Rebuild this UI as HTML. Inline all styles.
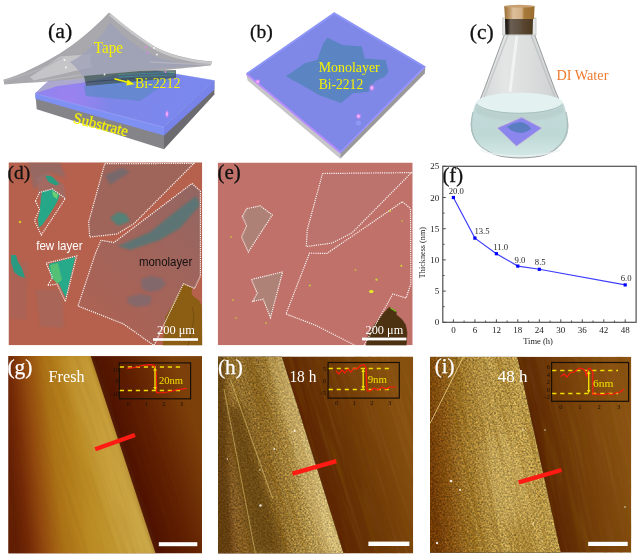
<!DOCTYPE html>
<html><head><meta charset="utf-8"><style>html,body{margin:0;padding:0;background:#fff;}svg{display:block}</style></head>
<body><svg width="640" height="556" viewBox="0 0 640 556">
<rect width="640" height="556" fill="#fff"/>
<defs><linearGradient id="slabTopA" gradientUnits="userSpaceOnUse" x1="40" y1="60" x2="190" y2="130"><stop offset="0" stop-color="#8c82f0"/><stop offset="0.5" stop-color="#7e86ea"/><stop offset="1" stop-color="#7a88ee"/></linearGradient><radialGradient id="pinkA" gradientUnits="userSpaceOnUse" cx="70" cy="98" r="40"><stop offset="0" stop-color="#b080f4" stop-opacity="0.5"/><stop offset="1" stop-color="#c080f0" stop-opacity="0"/></radialGradient><linearGradient id="water" x1="0" y1="0" x2="0" y2="1"><stop offset="0" stop-color="#c4dcdb"/><stop offset="0.6" stop-color="#bed8d6"/><stop offset="1" stop-color="#d2e8e6"/></linearGradient><linearGradient id="cork" x1="0" y1="0" x2="1" y2="0"><stop offset="0" stop-color="#9a7038"/><stop offset="0.18" stop-color="#c09868"/><stop offset="0.3" stop-color="#dcc09c"/><stop offset="0.58" stop-color="#d2ae84"/><stop offset="0.66" stop-color="#a87a3a"/><stop offset="1" stop-color="#9a6c30"/></linearGradient><linearGradient id="corkIn" x1="0" y1="0" x2="1" y2="0"><stop offset="0" stop-color="#1a1612"/><stop offset="0.1" stop-color="#2e2822"/><stop offset="0.2" stop-color="#6a5e52"/><stop offset="0.55" stop-color="#5e5040"/><stop offset="0.62" stop-color="#5c4832"/><stop offset="1" stop-color="#4a3820"/></linearGradient><linearGradient id="glass" x1="0" y1="0" x2="1" y2="0"><stop offset="0" stop-color="#b8bcbc"/><stop offset="0.1" stop-color="#d6d9d9"/><stop offset="0.35" stop-color="#e4e6e6"/><stop offset="0.6" stop-color="#dcdede"/><stop offset="0.88" stop-color="#cfd2d2"/><stop offset="1" stop-color="#b4b8b8"/></linearGradient><radialGradient id="glint"><stop offset="0" stop-color="#ffe0ff" stop-opacity="1"/><stop offset="0.35" stop-color="#ffa0ff" stop-opacity="0.85"/><stop offset="1" stop-color="#e070ff" stop-opacity="0"/></radialGradient><linearGradient id="gLeft" gradientUnits="userSpaceOnUse" x1="8" y1="455" x2="150" y2="440"><stop offset="0" stop-color="#621e04"/><stop offset="0.08" stop-color="#742a06"/><stop offset="0.18" stop-color="#92480e"/><stop offset="0.32" stop-color="#ac7216"/><stop offset="0.5" stop-color="#ba8a22"/><stop offset="0.75" stop-color="#c49c34"/><stop offset="1" stop-color="#cca848"/></linearGradient><linearGradient id="gRight" gradientUnits="userSpaceOnUse" x1="123" y1="455" x2="196" y2="431"><stop offset="0" stop-color="#4e1000"/><stop offset="0.45" stop-color="#602002"/><stop offset="1" stop-color="#7c400a"/></linearGradient><linearGradient id="hLeft" gradientUnits="userSpaceOnUse" x1="218" y1="455" x2="316" y2="440"><stop offset="0" stop-color="#7c5220"/><stop offset="0.25" stop-color="#94702e"/><stop offset="0.5" stop-color="#8e6a28"/><stop offset="0.7" stop-color="#a6863e"/><stop offset="0.88" stop-color="#b89c56"/><stop offset="1" stop-color="#c4aa64"/></linearGradient><linearGradient id="hRight" gradientUnits="userSpaceOnUse" x1="312" y1="455" x2="404" y2="426"><stop offset="0" stop-color="#5c2402"/><stop offset="0.4" stop-color="#6c3606"/><stop offset="1" stop-color="#885010"/></linearGradient><linearGradient id="iLeft" gradientUnits="userSpaceOnUse" x1="430" y1="455" x2="545" y2="445"><stop offset="0" stop-color="#703a06"/><stop offset="0.12" stop-color="#845012"/><stop offset="0.3" stop-color="#9c7428"/><stop offset="0.55" stop-color="#b8984a"/><stop offset="0.8" stop-color="#bc9c4c"/><stop offset="1" stop-color="#b89848"/></linearGradient><linearGradient id="iRight" gradientUnits="userSpaceOnUse" x1="539" y1="455" x2="625" y2="436"><stop offset="0" stop-color="#5a2402"/><stop offset="0.35" stop-color="#703a08"/><stop offset="1" stop-color="#8a5212"/></linearGradient><filter id="grain" x="0" y="0" width="100%" height="100%"><feTurbulence type="fractalNoise" baseFrequency="0.38" numOctaves="3" seed="7"/><feColorMatrix type="matrix" values="0 0 0 0 0.92  0 0 0 0 0.82  0 0 0 0 0.5  2.4 0 0 0 -1.05"/></filter><filter id="grainD" x="0" y="0" width="100%" height="100%"><feTurbulence type="fractalNoise" baseFrequency="0.36" numOctaves="3" seed="11"/><feColorMatrix type="matrix" values="0 0 0 0 0.3  0 0 0 0 0.15  0 0 0 0 0  2.4 0 0 0 -1.05"/></filter><filter id="ov" x="0" y="0" width="100%" height="100%"><feTurbulence type="fractalNoise" baseFrequency="0.42" numOctaves="3" seed="21"/><feColorMatrix type="matrix" values="3 0 0 0 -1  3 0 0 0 -1  3 0 0 0 -1  0 0 0 0 1"/></filter><filter id="ovS" x="0" y="0" width="100%" height="100%"><feTurbulence type="fractalNoise" baseFrequency="0.3 0.02" numOctaves="3" seed="4"/><feColorMatrix type="matrix" values="3 0 0 0 -1  3 0 0 0 -1  3 0 0 0 -1  0 0 0 0 1"/></filter><filter id="modn" x="0" y="0" width="1" height="1" color-interpolation-filters="sRGB"><feTurbulence type="fractalNoise" baseFrequency="0.55" numOctaves="2" seed="21" result="n"/><feColorMatrix in="n" type="matrix" values="1.0 0 0 0 0  1.0 0 0 0 0  1.0 0 0 0 0  0 0 0 0 1" result="g"/><feComposite in="SourceGraphic" in2="g" operator="arithmetic" k1="1" k2="0.5" k3="0" k4="0"/></filter><filter id="modn2" x="0" y="0" width="1" height="1" color-interpolation-filters="sRGB"><feTurbulence type="fractalNoise" baseFrequency="0.5 0.04" numOctaves="3" seed="33" result="n"/><feColorMatrix in="n" type="matrix" values="0.5 0 0 0 0.25  0.5 0 0 0 0.25  0.5 0 0 0 0.25  0 0 0 0 1" result="g"/><feComposite in="SourceGraphic" in2="g" operator="arithmetic" k1="1" k2="0.5" k3="0" k4="0"/></filter><filter id="streak" x="0" y="0" width="100%" height="100%"><feTurbulence type="fractalNoise" baseFrequency="0.25 0.012" numOctaves="2" seed="5"/><feColorMatrix type="matrix" values="0 0 0 0 0.2  0 0 0 0 0.08  0 0 0 0 0  2.4 0 0 0 -1.1"/></filter><filter id="streakL" x="0" y="0" width="100%" height="100%"><feTurbulence type="fractalNoise" baseFrequency="0.25 0.012" numOctaves="2" seed="9"/><feColorMatrix type="matrix" values="0 0 0 0 1  0 0 0 0 0.85  0 0 0 0 0.5  2.4 0 0 0 -1.1"/></filter><filter id="blur1"><feGaussianBlur stdDeviation="1"/></filter><filter id="blur2"><feGaussianBlur stdDeviation="2"/></filter><filter id="blur4"><feGaussianBlur stdDeviation="4"/></filter><filter id="soft"><feGaussianBlur stdDeviation="0.45"/></filter><clipPath id="cd"><rect x="8.5" y="162.3" width="193.8" height="183"/></clipPath><clipPath id="ce"><rect x="217.7" y="162.5" width="195" height="182.8"/></clipPath><clipPath id="cg"><rect x="8.3" y="356.1" width="193.7" height="197.4"/></clipPath><clipPath id="ch"><rect x="218" y="356.5" width="195.2" height="197"/></clipPath><clipPath id="ci"><rect x="430" y="356.7" width="201.3" height="196"/></clipPath></defs><polygon points="35.4,93.3 164.0,127.0 164.0,149.3 36.7,109.2" fill="#858589"/><polygon points="164.0,127.0 214.4,80.6 214.4,94.5 164.0,149.3" fill="#6c6c70"/><polygon points="35.4,93.3 164.0,127.0 164.0,135.5 35.4,98.8" fill="#7e90f2"/><polygon points="164.0,127.0 214.4,80.6 214.4,89.4 164.0,135.5" fill="#7884ea"/><polygon points="35.4,93.3 164.0,127.0 214.4,80.6 75.0,57.0" fill="url(#slabTopA)" stroke="url(#slabTopA)" stroke-width="0.5"/><polygon points="35.4,93.3 164.0,127.0 214.4,80.6 75.0,57.0" fill="url(#pinkA)"/><line x1="35.6" y1="93.8" x2="164" y2="127.5" stroke="#9ea0ff" stroke-width="0.8" opacity="0.7"/><polygon points="84.0,86.0 150.0,76.0 172.0,79.0 140.0,101.0 86.0,96.0" fill="#5e88c8" opacity="0.75"/><path d="M3.4,79.7 C22,74.5 42,64 60.1,53.2 C75,44 92,30 109,12.5 C122,24 138,36 154,46.3 C168,54 185,59 212.3,61.6 L210.5,65.5 C195,67 180,68.5 160,70.5 C130,73.5 100,77 83,79 C60,81 30,82.5 4.3,84.4 Z" fill="#a9a9ad"/><clipPath id="slabTopClip"><polygon points="35.4,93.3 164,127 214.4,80.6 75,57"/></clipPath><polygon points="30.0,83.0 60.0,80.5 93.0,77.5 112.0,73.5 112.0,76.0 82.5,82.8 56.7,86.2 38.0,92.5 33.0,90.0" fill="#b4b4c4" opacity="0.75" clip-path="url(#slabTopClip)"/><path d="M30,77 C42,70 52,62 60,56.5 L93,54 C90,58 88,62 92.8,66.8 C75,71 50,77 34,80.6 Z" fill="#c6c6c8" opacity="0.95"/><path d="M30,82 C50,79 70,76 90,73 C110,70 130,66 150,63 C120,68 100,71 83,75 C60,79 45,81 30,82 Z" fill="#bcbcc0" opacity="0.8"/><path d="M70,62 C85,55 100,40 110,22 C125,38 140,50 160,58 C175,63 190,64 205,64.5 C185,66.5 165,68 140,70.5 C115,73 95,75 83,77 C80,72 76,67 70,62 Z" fill="#9da0b8" opacity="0.75"/><path d="M110,14.5 C123,26 139,38 155,48.3 C169,56 186,60.8 211.5,63" fill="none" stroke="#c9c9cc" stroke-width="2.6" opacity="0.95"/><path d="M150,62 C170,63 190,64 210,64.5" fill="none" stroke="#b8b8c0" stroke-width="1.6" opacity="0.8"/><path d="M4,80.5 C25,76 45,68 62,58" fill="none" stroke="#b4b4b8" stroke-width="1.4"/><g opacity="0.75"><polygon points="84.0,76.0 140.0,71.0 176.0,70.0 176.0,78.0 140.0,81.0 86.0,86.0" fill="#3e5654"/><line x1="118" y1="74.5" x2="174" y2="72.5" stroke="#2e9a78" stroke-width="0.7"/><line x1="118" y1="77" x2="174" y2="75" stroke="#2e9a78" stroke-width="0.7"/><line x1="86" y1="82" x2="140" y2="78" stroke="#1e3634" stroke-width="1.2"/></g><circle cx="64.5" cy="60" r="0.9" fill="#fff" opacity="0.9"/><circle cx="66" cy="67.5" r="0.9" fill="#fff" opacity="0.9"/><circle cx="154" cy="48" r="0.9" fill="#fff" opacity="0.9"/><circle cx="157" cy="54.5" r="0.9" fill="#fff" opacity="0.9"/><circle cx="104.5" cy="74.5" r="0.9" fill="#fff" opacity="0.9"/><circle cx="146" cy="47.5" r="1.1" fill="#e080f0" opacity="0.9"/><circle cx="147.5" cy="53" r="1.1" fill="#e080f0" opacity="0.9"/><circle cx="165.5" cy="72" r="1.1" fill="#e080f0" opacity="0.9"/><ellipse cx="167" cy="114" rx="2.2" ry="4.5" fill="url(#glint)"/><text x="48" y="37.5" font-family="Liberation Serif, serif" font-size="21.9" fill="#111" stroke="#111" stroke-width="0.3">(a)</text><text x="93.8" y="53.3" font-family="Liberation Serif, serif" font-size="16" fill="#f6f200" textLength="29.2" lengthAdjust="spacingAndGlyphs" >Tape</text><text x="134.9" y="88.1" font-family="Liberation Serif, serif" font-size="14" fill="#f6f200" textLength="45.6" lengthAdjust="spacingAndGlyphs" >Bi-2212</text><line x1="114.4" y1="78.7" x2="129.5" y2="82.8" stroke="#f6f200" stroke-width="1.6"/><polygon points="134.5,84.3 127.5,79.6 126.3,85.4" fill="#f6f200"/><text x="0" y="0" font-family="Liberation Serif, serif" font-size="16" fill="#f6f200" textLength="54" lengthAdjust="spacingAndGlyphs" stroke="#f6f200" stroke-width="0.25" transform="translate(72.6,122.6) skewY(14.2) skewX(-13)">Substrate</text><polygon points="246.3,73.5 340.3,153.1 340.3,158.8 247.6,80.5" fill="#c6c6c8"/><polygon points="340.3,153.1 425.4,66.6 424.8,73.5 340.3,158.8" fill="#9a9a9c"/><polygon points="334.2,12.4 425.4,66.6 340.3,153.1 246.3,73.5" fill="#7f88e6" stroke="#7f88e6" stroke-width="0.4"/><polyline points="246.8,74.3 340.3,152.5" fill="none" stroke="#b88cff" stroke-width="1.8"/><polyline points="340.3,152.5 424.8,66.9" fill="none" stroke="#9c94ff" stroke-width="1.6"/><polyline points="247.5,73.5 334.2,13.5 423.9,66.6" fill="none" stroke="#8e96fa" stroke-width="1.6"/><polygon points="327.6,37.7 342.4,45.1 361.7,46.6 364.7,58.4 385.5,59.9 388.5,71.8 384.5,77.0 375.6,81.0 370.6,87.0 368.7,91.8 352.8,93.3 341.0,103.0 320.0,95.6 299.4,83.7 286.0,76.3 305.3,62.9 317.2,59.9 323.1,43.6" fill="#5a84c2"/><ellipse cx="257.8" cy="81.6" rx="3" ry="3" fill="url(#glint)"/><ellipse cx="371.8" cy="87.8" rx="3.2" ry="3.8" fill="url(#glint)"/><ellipse cx="358.5" cy="116.3" rx="3.2" ry="3.4" fill="url(#glint)"/><ellipse cx="358.5" cy="123" rx="2.5" ry="2.5" fill="#a0a8ff" opacity="0.5"/><text x="250" y="37.8" font-family="Liberation Serif, serif" font-size="19.6" fill="#111" stroke="#111" stroke-width="0.3">(b)</text><text x="318.7" y="71.8" font-family="Liberation Serif, serif" font-size="14" fill="#f6f200" textLength="61" lengthAdjust="spacingAndGlyphs" >Monolayer</text><text x="318.7" y="88.7" font-family="Liberation Serif, serif" font-size="14" fill="#f6f200" textLength="44.5" lengthAdjust="spacingAndGlyphs" >Bi-2212</text><path d="M505,33 L534,33 L555,90 L567,119 C571,135 561,151 541,156 C527,158.6 513,158.6 500,156 C480,151 468,135 472,119 L484,90 Z" fill="url(#glass)" stroke="#989c9c" stroke-width="1"/><path d="M508,35 L487,90 L476,117" fill="none" stroke="#c6caca" stroke-width="1.4"/><path d="M531,35 L552,90 L563,117" fill="none" stroke="#c0c4c4" stroke-width="1.4"/><path d="M517,35 L510,92" fill="none" stroke="#f4f6f6" stroke-width="3" opacity="0.8"/><path d="M476,103 C473,110 471,118 471,126 C471,140 480,150 500,154.5 C513,157 527,157 541,154.5 C560,150 569,140 568,126 C568,118 566,110 563,103 Z" fill="url(#water)"/><path d="M476,104 C488,117 551,117 563,104 L564,112 C550,124 490,124 475,112 Z" fill="#b6cccb" opacity="0.7" filter="url(#blur1)"/><ellipse cx="519.5" cy="102.8" rx="43.5" ry="10" fill="#e4f1f1"/><path d="M476.5,104 C489,116.5 550,116.5 562.5,104" fill="none" stroke="#a8c0be" stroke-width="1"/><path d="M473,112 C470,125 471,140 484,149" fill="none" stroke="#a4b8b6" stroke-width="1.3" opacity="0.8"/><path d="M566,112 C569,125 568,140 555,149" fill="none" stroke="#a4b8b6" stroke-width="1.3" opacity="0.8"/><path d="M480,150 C500,158 540,158 560,150" fill="none" stroke="#e8f2f2" stroke-width="1.5" opacity="0.8"/><polygon points="497.6,128.0 521.7,117.6 541.5,128.0 516.5,146.0" fill="#8a86ee" stroke="#c8a0d8" stroke-width="0.6"/><polygon points="507.1,127.1 512.3,123.7 520.0,122.0 524.3,123.1 528.6,125.4 531.2,128.8 526.9,131.4 521.7,133.1 516.5,132.2 511.4,130.5" fill="#5a7cc0"/><rect x="502.8" y="18" width="33.2" height="17" fill="#e4e6e6" stroke="#b8bcbc" stroke-width="0.7"/><path d="M505,19 L533,19 L532.6,34.5 L505.4,34.5 Z" fill="url(#corkIn)"/><path d="M504.2,6 L534.6,6 L534,19 L505,19 Z" fill="url(#cork)"/><ellipse cx="519.4" cy="6.2" rx="15.2" ry="1.5" fill="#c8a070"/><text x="469.8" y="38.8" font-family="Liberation Serif, serif" font-size="21.6" fill="#111" stroke="#111" stroke-width="0.3">(c)</text><text x="556.4" y="80.3" font-family="Liberation Serif, serif" font-size="14.5" fill="#f07a30" textLength="52" lengthAdjust="spacingAndGlyphs" >DI Water</text><g clip-path="url(#cd)"><rect x="8.5" y="162.3" width="193.8" height="183" fill="#b5614d"/><polygon points="104.7,163.7 193.8,163.4 133.8,223.8 116.9,234.0 89.7,237.0 88.7,222.0" fill="#8c6a68" opacity="0.5"/><linearGradient id="loG" gradientUnits="userSpaceOnUse" x1="90" y1="320" x2="200" y2="200"><stop offset="0" stop-color="#9a6662" stop-opacity="0.35"/><stop offset="1" stop-color="#86686a" stop-opacity="0.7"/></linearGradient><polygon points="192.0,183.5 200.4,191.0 200.4,276.0 194.6,288.4 183.4,283.7 154.0,345.5 123.6,324.0 78.0,306.0 95.3,253.8 101.0,240.3 114.0,242.5" fill="url(#loG)"/><g filter="url(#blur1)" opacity="0.75"><polygon points="118.0,246.0 150.0,232.0 175.0,212.0 196.0,196.0 200.0,205.0 180.0,228.0 160.0,240.0 130.0,250.0" fill="#4a7a7c"/><polygon points="110.0,218.0 118.0,212.0 126.0,214.0 130.0,221.0 118.0,226.0" fill="#3a8a80"/><polygon points="105.0,175.0 122.0,168.0 130.0,172.0 110.0,185.0" fill="#6a6a72"/><polygon points="141.0,279.0 150.0,276.0 162.0,278.0 166.0,284.0 160.0,290.0 150.0,292.0 142.0,289.0" fill="#786a72"/><polygon points="128.0,297.0 140.0,294.0 152.0,296.0 150.0,305.0 136.0,307.0 127.0,303.0" fill="#7c6a70"/><polygon points="28.0,163.0 60.0,163.0 66.0,178.0 48.0,172.0 34.0,190.0" fill="#8e6a68"/><polygon points="36.0,290.0 62.0,290.0 64.0,328.0 40.0,326.0" fill="#9a6c66" opacity="0.6"/><polygon points="10.0,262.0 28.0,262.0 26.0,320.0 10.0,318.0" fill="#9e6a64" opacity="0.5"/></g><g filter="url(#soft)"><polygon points="36.0,178.0 48.0,172.0 64.0,185.0 66.0,198.0 50.0,200.0 40.0,200.0" fill="#987070" opacity="0.6"/><polygon points="42.2,191.6 52.4,189.4 59.3,195.0 57.6,201.0 51.6,211.3 48.2,216.4 42.2,225.0 38.8,227.5 37.9,219.0 39.6,211.3 40.5,202.7 41.3,196.0" fill="#26a888"/><polygon points="52.0,190.5 58.0,194.5 57.0,199.0 53.0,196.0" fill="#6ad070"/><polygon points="45.6,175.4 51.6,176.2 59.3,184.0 55.9,185.6 49.0,182.2 46.5,178.8" fill="#2a9c80"/><polygon points="48.9,264.1 75.3,256.8 65.8,297.7 58.0,282.3 51.6,278.6 49.8,270.5" fill="#28aa8a"/><polygon points="50.0,265.0 58.0,263.0 62.0,280.0 57.0,284.0 52.0,277.0" fill="#5ac472" opacity="0.85"/><polygon points="11.0,255.0 16.0,255.0 18.0,262.0 22.0,268.0 25.0,278.0 19.0,276.0 14.0,272.0 11.0,262.0" fill="#2a9a80"/></g><circle cx="20" cy="222" r="1.3" fill="#d8c020"/><polygon points="183.4,283.7 192.1,287.8 192.0,290.3 191.5,294.0 194.0,296.7 199.1,300.5 201.7,305.6 202.5,346.0 162.5,346.0 165.3,317.0 174.9,300.0" fill="#8c5e14"/><path d="M192,307 C196,318 192,330 188,346" fill="none" stroke="#6e4a10" stroke-width="0.8"/><polygon points="104.7,163.7 193.8,163.4 133.8,223.8 116.9,234.0 89.7,237.0 88.7,222.0" fill="none" stroke="#fbf4f2" stroke-width="1.2" stroke-dasharray="1.2 1"/><polygon points="192.0,183.5 200.4,191.0 200.4,276.0 194.6,288.4 183.4,283.7 154.0,345.5 123.6,324.0 78.0,306.0 95.3,253.8 101.0,240.3 114.0,242.5" fill="none" stroke="#fbf4f2" stroke-width="1.2" stroke-dasharray="1.2 1"/><polygon points="35.4,201.0 39.6,192.5 52.4,189.0 65.3,198.5 41.3,235.0 34.5,220.7 39.6,209.6" fill="none" stroke="#fbf4f2" stroke-width="1.2" stroke-dasharray="1.2 1"/><polygon points="46.2,263.2 76.7,255.9 65.3,301.4 57.1,284.1 47.6,285.4 52.5,277.7" fill="none" stroke="#fbf4f2" stroke-width="1.2" stroke-dasharray="1.2 1"/></g><text x="7.6" y="179.2" font-family="Liberation Serif, serif" font-size="19.4" fill="#111" stroke="#111" stroke-width="0.3">(d)</text><text x="36.2" y="249.7" font-family="Liberation Sans, sans-serif" font-size="13.5" fill="#fff" textLength="46.3" lengthAdjust="spacingAndGlyphs" >few layer</text><text x="138.9" y="266.4" font-family="Liberation Sans, sans-serif" font-size="13.5" fill="#151010" textLength="53.4" lengthAdjust="spacingAndGlyphs" >monolayer</text><text x="157" y="334.4" font-family="Liberation Serif, serif" font-size="12" fill="#fff" textLength="38" lengthAdjust="spacingAndGlyphs" >200 μm</text><rect x="153" y="338.2" width="45" height="2.6" fill="#fff"/><g clip-path="url(#ce)"><rect x="217.7" y="162.5" width="195" height="182.8" fill="#c0726a"/><polygon points="242.4,216.4 246.6,208.7 260.3,205.8 272.3,215.0 248.3,252.0 241.5,237.0 246.6,225.8" fill="#a4887c" opacity="0.65"/><polygon points="251.4,279.5 282.6,271.9 270.5,317.7 263.2,299.2 252.8,301.4 257.2,293.2" fill="#a48a7e" opacity="0.65"/><polygon points="322.5,173.5 411.4,172.6 352.1,232.8 332.3,243.0 306.3,246.6 307.2,230.0" fill="#b87470" opacity="0.5"/><polygon points="389.2,307.2 396.2,311.4 396.2,314.7 401.9,319.4 405.6,325.0 407.0,332.5 406.5,341.9 406.0,346.0 366.2,346.0 367.2,338.1 370.9,329.7 376.6,322.2 383.1,313.7" fill="#4c3210" stroke="#4c3210" stroke-width="0.6" stroke-linejoin="round"/><line x1="390.5" y1="308" x2="396" y2="311.4" stroke="#78c020" stroke-width="1.2"/><polygon points="322.5,173.5 411.4,172.6 352.1,232.8 332.3,243.0 306.3,246.6 307.2,230.0" fill="none" stroke="#fbf4f2" stroke-width="1.2" stroke-dasharray="1.2 1"/><polygon points="402.4,201.7 410.5,208.5 410.8,284.0 406.0,298.0 392.8,294.0 363.6,346.0 356.5,346.0 315.0,325.0 286.0,314.0 309.5,253.2 327.0,253.4" fill="none" stroke="#fbf4f2" stroke-width="1.2" stroke-dasharray="1.2 1"/><polygon points="242.4,216.4 246.6,208.7 260.3,205.8 272.3,215.0 248.3,252.0 241.5,237.0 246.6,225.8" fill="none" stroke="#fbf4f2" stroke-width="1.2" stroke-dasharray="1.2 1"/><polygon points="251.4,279.5 282.6,271.9 270.5,317.7 263.2,299.2 252.8,301.4 257.2,293.2" fill="none" stroke="#fbf4f2" stroke-width="1.2" stroke-dasharray="1.2 1"/><circle cx="401.3" cy="265.7" r="1" fill="#c8e030"/><circle cx="376.5" cy="279.7" r="1.1" fill="#c8e030"/><circle cx="355.5" cy="270" r="0.8" fill="#c8e030"/><circle cx="309.8" cy="285.4" r="0.9" fill="#c8e030"/><circle cx="231" cy="237" r="0.8" fill="#c8e030"/><circle cx="233" cy="300" r="0.8" fill="#c8e030"/><circle cx="236" cy="318" r="0.7" fill="#c8e030"/><circle cx="266" cy="323" r="0.8" fill="#c8e030"/><circle cx="390" cy="211" r="0.9" fill="#c8e030"/><circle cx="402" cy="221" r="0.7" fill="#c8e030"/><ellipse cx="371.3" cy="291.5" rx="2.2" ry="1.6" fill="#e4f020"/></g><text x="217.4" y="178.6" font-family="Liberation Serif, serif" font-size="21" fill="#111" stroke="#111" stroke-width="0.3">(e)</text><text x="365.6" y="334.4" font-family="Liberation Serif, serif" font-size="12" fill="#fff" textLength="37.6" lengthAdjust="spacingAndGlyphs" >200 μm</text><rect x="362" y="337.6" width="44.4" height="2.8" fill="#fff"/><rect x="442.8" y="166.3" width="193.3" height="156.0" fill="none" stroke="#505050" stroke-width="1.2"/><line x1="442.8" y1="322.3" x2="445.8" y2="322.3" stroke="#505050" stroke-width="1"/><text x="439.3" y="325.3" font-family="Liberation Serif, serif" font-size="9" fill="#222" text-anchor="end">0</text><line x1="442.8" y1="306.7" x2="444.6" y2="306.7" stroke="#505050" stroke-width="1"/><line x1="442.8" y1="291.1" x2="445.8" y2="291.1" stroke="#505050" stroke-width="1"/><text x="439.3" y="294.1" font-family="Liberation Serif, serif" font-size="9" fill="#222" text-anchor="end">5</text><line x1="442.8" y1="275.5" x2="444.6" y2="275.5" stroke="#505050" stroke-width="1"/><line x1="442.8" y1="259.9" x2="445.8" y2="259.9" stroke="#505050" stroke-width="1"/><text x="439.3" y="262.9" font-family="Liberation Serif, serif" font-size="9" fill="#222" text-anchor="end">10</text><line x1="442.8" y1="244.3" x2="444.6" y2="244.3" stroke="#505050" stroke-width="1"/><line x1="442.8" y1="228.7" x2="445.8" y2="228.7" stroke="#505050" stroke-width="1"/><text x="439.3" y="231.7" font-family="Liberation Serif, serif" font-size="9" fill="#222" text-anchor="end">15</text><line x1="442.8" y1="213.1" x2="444.6" y2="213.1" stroke="#505050" stroke-width="1"/><line x1="442.8" y1="197.5" x2="445.8" y2="197.5" stroke="#505050" stroke-width="1"/><text x="439.3" y="200.5" font-family="Liberation Serif, serif" font-size="9" fill="#222" text-anchor="end">20</text><line x1="442.8" y1="181.9" x2="444.6" y2="181.9" stroke="#505050" stroke-width="1"/><line x1="442.8" y1="166.3" x2="445.8" y2="166.3" stroke="#505050" stroke-width="1"/><text x="439.3" y="169.3" font-family="Liberation Serif, serif" font-size="9" fill="#222" text-anchor="end">25</text><line x1="453.4" y1="322.3" x2="453.4" y2="319.3" stroke="#505050" stroke-width="1"/><text x="453.4" y="332.8" font-family="Liberation Serif, serif" font-size="9" fill="#222" text-anchor="middle">0</text><line x1="464.1" y1="322.3" x2="464.1" y2="320.5" stroke="#505050" stroke-width="1"/><line x1="474.9" y1="322.3" x2="474.9" y2="319.3" stroke="#505050" stroke-width="1"/><text x="474.9" y="332.8" font-family="Liberation Serif, serif" font-size="9" fill="#222" text-anchor="middle">6</text><line x1="485.6" y1="322.3" x2="485.6" y2="320.5" stroke="#505050" stroke-width="1"/><line x1="496.4" y1="322.3" x2="496.4" y2="319.3" stroke="#505050" stroke-width="1"/><text x="496.4" y="332.8" font-family="Liberation Serif, serif" font-size="9" fill="#222" text-anchor="middle">12</text><line x1="507.1" y1="322.3" x2="507.1" y2="320.5" stroke="#505050" stroke-width="1"/><line x1="517.8" y1="322.3" x2="517.8" y2="319.3" stroke="#505050" stroke-width="1"/><text x="517.8" y="332.8" font-family="Liberation Serif, serif" font-size="9" fill="#222" text-anchor="middle">18</text><line x1="528.6" y1="322.3" x2="528.6" y2="320.5" stroke="#505050" stroke-width="1"/><line x1="539.3" y1="322.3" x2="539.3" y2="319.3" stroke="#505050" stroke-width="1"/><text x="539.3" y="332.8" font-family="Liberation Serif, serif" font-size="9" fill="#222" text-anchor="middle">24</text><line x1="550.1" y1="322.3" x2="550.1" y2="320.5" stroke="#505050" stroke-width="1"/><line x1="560.8" y1="322.3" x2="560.8" y2="319.3" stroke="#505050" stroke-width="1"/><text x="560.8" y="332.8" font-family="Liberation Serif, serif" font-size="9" fill="#222" text-anchor="middle">30</text><line x1="571.5" y1="322.3" x2="571.5" y2="320.5" stroke="#505050" stroke-width="1"/><line x1="582.3" y1="322.3" x2="582.3" y2="319.3" stroke="#505050" stroke-width="1"/><text x="582.3" y="332.8" font-family="Liberation Serif, serif" font-size="9" fill="#222" text-anchor="middle">36</text><line x1="593.0" y1="322.3" x2="593.0" y2="320.5" stroke="#505050" stroke-width="1"/><line x1="603.8" y1="322.3" x2="603.8" y2="319.3" stroke="#505050" stroke-width="1"/><text x="603.8" y="332.8" font-family="Liberation Serif, serif" font-size="9" fill="#222" text-anchor="middle">42</text><line x1="614.5" y1="322.3" x2="614.5" y2="320.5" stroke="#505050" stroke-width="1"/><line x1="625.2" y1="322.3" x2="625.2" y2="319.3" stroke="#505050" stroke-width="1"/><text x="625.2" y="332.8" font-family="Liberation Serif, serif" font-size="9" fill="#222" text-anchor="middle">48</text><polyline points="453.4,197.5 474.9,238.1 496.4,253.7 517.8,266.1 539.3,269.3 625.2,284.9" fill="none" stroke="#3c3cff" stroke-width="1.15"/><rect x="451.8" y="195.9" width="3.2" height="3.2" fill="#0000ff"/><rect x="473.3" y="236.5" width="3.2" height="3.2" fill="#0000ff"/><rect x="494.8" y="252.1" width="3.2" height="3.2" fill="#0000ff"/><rect x="516.2" y="264.5" width="3.2" height="3.2" fill="#0000ff"/><rect x="537.7" y="267.7" width="3.2" height="3.2" fill="#0000ff"/><rect x="623.6" y="283.3" width="3.2" height="3.2" fill="#0000ff"/><text x="448.7" y="193.7" font-family="Liberation Serif, serif" font-size="8.7" fill="#2a2a2a">20.0</text><text x="474.4" y="234.4" font-family="Liberation Serif, serif" font-size="8.7" fill="#2a2a2a">13.5</text><text x="493.3" y="249.9" font-family="Liberation Serif, serif" font-size="8.7" fill="#2a2a2a">11.0</text><text x="514.6" y="262.5" font-family="Liberation Serif, serif" font-size="8.7" fill="#2a2a2a">9.0</text><text x="534.8" y="265.1" font-family="Liberation Serif, serif" font-size="8.7" fill="#2a2a2a">8.5</text><text x="620.7" y="280.8" font-family="Liberation Serif, serif" font-size="8.7" fill="#2a2a2a">6.0</text><text x="538" y="343.7" font-family="Liberation Serif, serif" font-size="8.5" fill="#222" text-anchor="middle">Time (h)</text><text x="0" y="0" font-family="Liberation Serif, serif" font-size="8.2" fill="#222" text-anchor="middle" transform="translate(424.8,252.6) rotate(-90)">Thickness (nm)</text><text x="442.4" y="181.5" font-family="Liberation Serif, serif" font-size="20.7" fill="#111" stroke="#111" stroke-width="0.3">(f)</text><g clip-path="url(#cg)"><rect x="8.3" y="356.1" width="193.7" height="197.4" fill="url(#gRight)"/><polygon points="8.3,356.1 90.7,356.1 155.6,553.5 8.3,553.5" fill="url(#gLeft)"/><polygon points="60,356 90.7,356 155.6,553.5 120,553.5" fill="#e0c070" opacity="0.18" filter="url(#blur4)"/><polygon points="90.7,356.1 96,356.1 160,553.5 155.6,553.5" fill="#3a0a00" opacity="0.25" filter="url(#blur2)"/><g transform="rotate(-18.2 105 455)"><rect x="-30" y="330" width="270" height="260" filter="url(#streak)" opacity="0.1"/></g><line x1="95.2" y1="449.2" x2="135" y2="435" stroke="#ff1a14" stroke-width="4.3"/><rect x="158.8" y="542.2" width="38.5" height="4" fill="#fff"/></g><text x="7.5" y="373.6" font-family="Liberation Serif, serif" font-size="21.4" fill="#fff" stroke="#fff" stroke-width="0.25">(g)</text><text x="48.6" y="382.2" font-family="Liberation Serif, serif" font-size="17" fill="#fff" textLength="36" lengthAdjust="spacingAndGlyphs" >Fresh</text><rect x="119.4" y="362.9" width="71.19999999999999" height="35.900000000000034" fill="none" stroke="#1a1008" stroke-width="1.2"/><line x1="119.8" y1="366.9" x2="180.7" y2="366.9" stroke="#f0e000" stroke-width="1.5" stroke-dasharray="4.2 3.8"/><line x1="119.8" y1="390.4" x2="180.7" y2="390.4" stroke="#f0e000" stroke-width="1.5" stroke-dasharray="4.2 3.8"/><polyline points="127.3,368.4 135.0,367.5 142.0,365.5 149.5,364.7 154.0,365.0 156.2,372.0 156.6,392.4 160.0,393.0 168.0,392.0 176.0,390.0 186.6,388.4" fill="none" stroke="#ff1a10" stroke-width="1.2" stroke-linejoin="round"/><line x1="155" y1="369.4" x2="155" y2="387.9" stroke="#f0e000" stroke-width="1.4"/><polygon points="155,366.9 153.2,370.4 156.8,370.4" fill="#f0e000"/><polygon points="155,390.4 153.2,386.9 156.8,386.9" fill="#f0e000"/><text x="158.9" y="383.5" font-family="Liberation Serif, serif" font-size="10.6" fill="#f0e000" textLength="24.1" lengthAdjust="spacingAndGlyphs" >20nm</text><text x="119" y="371.90000000000003" font-family="Liberation Serif, serif" font-size="6.5" fill="#1a1008" text-anchor="end">10</text><text x="118.4" y="383.3" font-family="Liberation Serif, serif" font-size="6.5" fill="#1a1008" text-anchor="end">0</text><text x="119" y="395.6" font-family="Liberation Serif, serif" font-size="6.5" fill="#1a1008" text-anchor="end">-10</text><text x="128.3" y="405.6" font-family="Liberation Serif, serif" font-size="6.5" fill="#1a1008" text-anchor="middle">0</text><text x="146.3" y="405.6" font-family="Liberation Serif, serif" font-size="6.5" fill="#1a1008" text-anchor="middle">1</text><text x="163.9" y="405.6" font-family="Liberation Serif, serif" font-size="6.5" fill="#1a1008" text-anchor="middle">2</text><text x="181.4" y="405.6" font-family="Liberation Serif, serif" font-size="6.5" fill="#1a1008" text-anchor="middle">3</text><clipPath id="hL"><polygon points="218,356.5 281.8,356.5 343.5,553.5 218,553.5"/></clipPath><g clip-path="url(#ch)"><rect x="218" y="356.5" width="195.2" height="197" fill="url(#hRight)"/><polygon points="218,356.5 281.8,356.5 343.5,553.5 218,553.5" fill="url(#hLeft)" filter="url(#modn)"/><g transform="rotate(-17.4 315 455)"><rect x="180" y="330" width="280" height="260" filter="url(#streak)" opacity="0.4"/><rect x="180" y="330" width="280" height="260" filter="url(#streakL)" opacity="0.05"/></g><g clip-path="url(#hL)"><polygon points="226,410 242,405 284,554 252,554" fill="#4a2a04" opacity="0.5" filter="url(#blur4)"/><polygon points="268,356.5 285,356.5 347,553.5 322,553.5" fill="#f4e0a0" opacity="0.3" filter="url(#blur4)"/><polygon points="214,356 224,356 232,554 214,554" fill="#4a2a04" opacity="0.5" filter="url(#blur2)"/></g><line x1="224" y1="389" x2="255.5" y2="554" stroke="#d8c070" stroke-width="1" opacity="0.6"/><line x1="230.5" y1="380" x2="272.7" y2="498.7" stroke="#d8c070" stroke-width="1.1" opacity="0.6"/><circle cx="294.6" cy="431" r="1.1" fill="#fff" opacity="0.85"/><circle cx="274.3" cy="449" r="0.9" fill="#fff" opacity="0.85"/><circle cx="227.4" cy="459" r="0.7" fill="#fff" opacity="0.85"/><circle cx="259.9" cy="470" r="0.7" fill="#fff" opacity="0.85"/><circle cx="260.5" cy="505.5" r="1.2" fill="#fff" opacity="0.85"/><line x1="292.5" y1="473.6" x2="336.3" y2="461.1" stroke="#ff1a14" stroke-width="4.3"/><rect x="368.4" y="541.6" width="41" height="4.4" fill="#fff"/></g><text x="218" y="373.7" font-family="Liberation Serif, serif" font-size="21.3" fill="#fff" stroke="#fff" stroke-width="0.25">(h)</text><text x="289.4" y="382.2" font-family="Liberation Serif, serif" font-size="17" fill="#fff" textLength="27" lengthAdjust="spacingAndGlyphs" >18 h</text><rect x="328.1" y="362.5" width="71.19999999999999" height="35.60000000000002" fill="none" stroke="#1a1008" stroke-width="1.2"/><line x1="328.7" y1="368.4" x2="390" y2="368.4" stroke="#f0e000" stroke-width="1.5" stroke-dasharray="4.2 3.8"/><line x1="328.7" y1="389.5" x2="390" y2="389.5" stroke="#f0e000" stroke-width="1.5" stroke-dasharray="4.2 3.8"/><polyline points="336.0,371.0 339.0,374.0 342.0,370.0 345.0,373.0 348.0,369.0 351.0,372.0 354.0,368.0 357.0,369.0 360.0,366.0 364.0,364.5 366.0,368.0 367.0,390.7 370.0,391.0 374.0,388.0 378.0,390.0 382.0,387.0 386.0,389.0 390.0,387.0 395.9,387.0" fill="none" stroke="#ff1a10" stroke-width="1.2" stroke-linejoin="round"/><line x1="363.2" y1="370.9" x2="363.2" y2="387.0" stroke="#f0e000" stroke-width="1.4"/><polygon points="363.2,368.4 361.4,371.9 365.0,371.9" fill="#f0e000"/><polygon points="363.2,389.5 361.4,386.0 365.0,386.0" fill="#f0e000"/><text x="367.7" y="383.2" font-family="Liberation Serif, serif" font-size="10.6" fill="#f0e000" textLength="19.3" lengthAdjust="spacingAndGlyphs" >9nm</text><text x="326" y="371.1" font-family="Liberation Serif, serif" font-size="6.5" fill="#1a1008" text-anchor="end">5</text><text x="326" y="382.6" font-family="Liberation Serif, serif" font-size="6.5" fill="#1a1008" text-anchor="end">0</text><text x="326" y="394.7" font-family="Liberation Serif, serif" font-size="6.5" fill="#1a1008" text-anchor="end">-5</text><text x="336.5" y="404.8" font-family="Liberation Serif, serif" font-size="6.5" fill="#1a1008" text-anchor="middle">0</text><text x="354.3" y="404.8" font-family="Liberation Serif, serif" font-size="6.5" fill="#1a1008" text-anchor="middle">1</text><text x="371.9" y="404.8" font-family="Liberation Serif, serif" font-size="6.5" fill="#1a1008" text-anchor="middle">2</text><text x="389.7" y="404.8" font-family="Liberation Serif, serif" font-size="6.5" fill="#1a1008" text-anchor="middle">3</text><clipPath id="iL"><polygon points="430,356.7 517.3,356.7 560.8,552.7 430,552.7"/></clipPath><g clip-path="url(#ci)"><rect x="430" y="356.7" width="201.3" height="196" fill="url(#iRight)"/><polygon points="430,356.7 517.3,356.7 560.8,552.7 430,552.7" fill="url(#iLeft)" filter="url(#modn)"/><ellipse cx="505" cy="480" rx="22" ry="50" fill="#e0c880" opacity="0.22" filter="url(#blur4)" transform="rotate(-12 505 480)"/><g transform="rotate(-12.5 530 455)"><rect x="400" y="330" width="270" height="260" filter="url(#streak)" opacity="0.4"/><rect x="400" y="330" width="270" height="260" filter="url(#streakL)" opacity="0.05"/></g><g clip-path="url(#iL)"></g><line x1="463.8" y1="356" x2="430" y2="423.6" stroke="#f0d890" stroke-width="0.9" opacity="0.85"/><circle cx="451" cy="481" r="1.3" fill="#fff" opacity="0.85"/><circle cx="460" cy="490" r="1" fill="#fff" opacity="0.85"/><circle cx="523" cy="430" r="0.8" fill="#fff" opacity="0.85"/><circle cx="545" cy="430" r="0.7" fill="#fff" opacity="0.85"/><circle cx="625" cy="507" r="0.8" fill="#fff" opacity="0.85"/><circle cx="437" cy="543" r="1.2" fill="#fff" opacity="0.85"/><circle cx="533" cy="524" r="0.7" fill="#fff" opacity="0.85"/><line x1="518.7" y1="482.4" x2="561.5" y2="470" stroke="#ff1a14" stroke-width="4.3"/><rect x="588.2" y="541.8" width="39.5" height="4.2" fill="#fff"/></g><text x="434.8" y="373.4" font-family="Liberation Serif, serif" font-size="21" fill="#fff" stroke="#fff" stroke-width="0.25">(i)</text><text x="497.8" y="382.2" font-family="Liberation Serif, serif" font-size="17" fill="#fff" textLength="29.7" lengthAdjust="spacingAndGlyphs" >48 h</text><rect x="551.6" y="362.5" width="77.0" height="38.80000000000001" fill="none" stroke="#1a1008" stroke-width="1.2"/><line x1="552.2" y1="370.6" x2="618" y2="370.6" stroke="#f0e000" stroke-width="1.5" stroke-dasharray="4.2 3.8"/><line x1="552.2" y1="393.6" x2="618" y2="393.6" stroke="#f0e000" stroke-width="1.5" stroke-dasharray="4.2 3.8"/><polyline points="560.8,376.6 564.0,374.0 567.0,377.0 570.0,373.0 574.0,372.0 578.0,369.0 580.0,368.0 583.0,369.0 585.0,371.0 586.8,376.6 588.0,369.0 590.0,368.0 592.7,372.0 593.0,394.4 598.0,394.0 603.0,395.0 608.0,393.5 612.0,394.5 616.0,393.0 620.0,392.0 623.9,389.2" fill="none" stroke="#ff1a10" stroke-width="1.2" stroke-linejoin="round"/><line x1="588.7" y1="373.1" x2="588.7" y2="391.1" stroke="#f0e000" stroke-width="1.4"/><polygon points="588.7,370.6 586.9000000000001,374.1 590.5,374.1" fill="#f0e000"/><polygon points="588.7,393.6 586.9000000000001,390.1 590.5,390.1" fill="#f0e000"/><text x="593.1" y="387" font-family="Liberation Serif, serif" font-size="10.6" fill="#f0e000" textLength="20.4" lengthAdjust="spacingAndGlyphs" >6nm</text><text x="550" y="368.8" font-family="Liberation Serif, serif" font-size="6.5" fill="#1a1008" text-anchor="end">6</text><text x="550" y="377.1" font-family="Liberation Serif, serif" font-size="6.5" fill="#1a1008" text-anchor="end">4</text><text x="550" y="384.0" font-family="Liberation Serif, serif" font-size="6.5" fill="#1a1008" text-anchor="end">2</text><text x="550" y="391.8" font-family="Liberation Serif, serif" font-size="6.5" fill="#1a1008" text-anchor="end">0</text><text x="550" y="399.2" font-family="Liberation Serif, serif" font-size="6.5" fill="#1a1008" text-anchor="end">-2</text><text x="560.8" y="408.5" font-family="Liberation Serif, serif" font-size="6.5" fill="#1a1008" text-anchor="middle">0</text><text x="579.8" y="408.5" font-family="Liberation Serif, serif" font-size="6.5" fill="#1a1008" text-anchor="middle">1</text><text x="599" y="408.5" font-family="Liberation Serif, serif" font-size="6.5" fill="#1a1008" text-anchor="middle">2</text><text x="618.7" y="408.5" font-family="Liberation Serif, serif" font-size="6.5" fill="#1a1008" text-anchor="middle">3</text>
</svg></body></html>
